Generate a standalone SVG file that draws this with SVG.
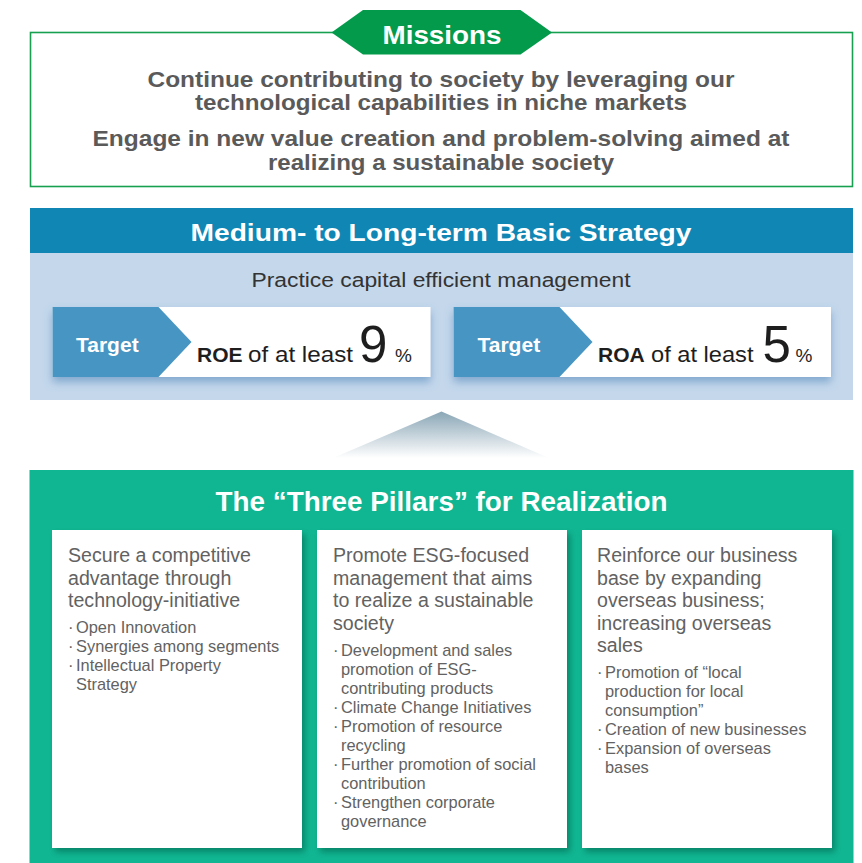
<svg xmlns="http://www.w3.org/2000/svg" width="862" height="863" viewBox="0 0 862 863">
  <style>
    .sans { font-family: "Liberation Sans", Arial, Helvetica, sans-serif; }
    .mission-line { font-size: 21.5px; font-weight: bold; fill: #5a5a5a; text-anchor: middle; }
    .white-title { font-weight: bold; fill: #ffffff; text-anchor: middle; }
    .target-tag { font-size: 21px; font-weight: bold; fill: #ffffff; }
    .target-txt { fill: #1e1e1e; }
    .card { fill: #ffffff; }
    .card-head { font-size: 19.6px; fill: #626262; }
    .card-item { font-size: 16.4px; fill: #626262; }
  </style>
  <defs>
    <filter id="tgtShadow" x="-10%" y="-30%" width="120%" height="170%">
      <feDropShadow dx="0" dy="5" stdDeviation="4" flood-color="#5b8fc0" flood-opacity="0.65"/>
    </filter>
    <filter id="cardShadow" x="-10%" y="-10%" width="125%" height="125%">
      <feDropShadow dx="3" dy="4" stdDeviation="3" flood-color="#045c47" flood-opacity="0.55"/>
    </filter>
    <linearGradient id="upArrow" x1="0" y1="0" x2="0" y2="1">
      <stop offset="0" stop-color="#8aa6b6"/>
      <stop offset="1" stop-color="#ffffff"/>
    </linearGradient>
  </defs>

  <!-- Missions -->
  <g id="missions" class="sans">
    <rect x="30.5" y="32.5" width="822" height="154" fill="#ffffff" stroke="#16a04f" stroke-width="1.6"/>
    <polygon points="331.5,32.5 363,10 520.5,10 552,32.5 520.5,54.5 363,54.5" fill="#039b4b"/>
    <text x="442" y="43.5" class="white-title" font-size="26.5" textLength="119" lengthAdjust="spacingAndGlyphs">Missions</text>
    <text x="441" y="86.5" class="mission-line" textLength="587" lengthAdjust="spacingAndGlyphs">Continue contributing to society by leveraging our</text>
    <text x="441" y="110" class="mission-line" textLength="492" lengthAdjust="spacingAndGlyphs">technological capabilities in niche markets</text>
    <text x="441" y="145.5" class="mission-line" textLength="697" lengthAdjust="spacingAndGlyphs">Engage in new value creation and problem-solving aimed at</text>
    <text x="441" y="169.5" class="mission-line" textLength="346" lengthAdjust="spacingAndGlyphs">realizing a sustainable society</text>
  </g>

  <!-- Medium- to Long-term Basic Strategy -->
  <g id="strategy" class="sans">
    <rect x="30" y="208" width="823" height="45" fill="#0f86b4"/>
    <rect x="30" y="253" width="823" height="147" fill="#c4d7eb"/>
    <text x="441" y="240.7" class="white-title" font-size="24" textLength="501" lengthAdjust="spacingAndGlyphs">Medium- to Long-term Basic Strategy</text>
    <text x="441" y="287" font-size="19.5" fill="#333333" text-anchor="middle" textLength="379" lengthAdjust="spacingAndGlyphs">Practice capital efficient management</text>
  </g>

  <g id="target-roe" class="sans">
    <rect x="52.5" y="307" width="378" height="70" fill="#ffffff" filter="url(#tgtShadow)"/>
    <polygon points="52.5,307 158.5,307 191.5,342 158.5,377 52.5,377" fill="#4795c2"/>
    <text x="76" y="351.7" class="target-tag">Target</text>
    <text x="197" y="361.7" class="target-txt" font-size="21" font-weight="bold">ROE</text>
    <text x="248" y="361.7" class="target-txt" font-size="22" textLength="105" lengthAdjust="spacingAndGlyphs">of at least</text>
    <text x="359" y="361.7" class="target-txt" font-size="51">9</text>
    <text x="395" y="361.7" class="target-txt" font-size="19">%</text>
  </g>

  <g id="target-roa" class="sans">
    <rect x="453.5" y="307" width="377.5" height="70" fill="#ffffff" filter="url(#tgtShadow)"/>
    <polygon points="453.5,307 559.5,307 592.5,342 559.5,377 453.5,377" fill="#4795c2"/>
    <text x="477.5" y="351.7" class="target-tag">Target</text>
    <text x="598" y="361.7" class="target-txt" font-size="21" font-weight="bold">ROA</text>
    <text x="651" y="361.7" class="target-txt" font-size="22" textLength="102.5" lengthAdjust="spacingAndGlyphs">of at least</text>
    <text x="762.5" y="361.7" class="target-txt" font-size="51">5</text>
    <text x="795.5" y="361.7" class="target-txt" font-size="19">%</text>
  </g>

  <!-- Connector: pillars support the strategy -->
  <g id="connectors">
    <polygon points="441.5,411.5 333,458 549,458" fill="url(#upArrow)"/>
  </g>

  <!-- The "Three Pillars" for Realization -->
  <g id="pillars" class="sans">
    <rect x="29.5" y="470" width="824" height="393" fill="#10b692"/>
    <text x="441.5" y="511" class="white-title" font-size="27" textLength="452" lengthAdjust="spacingAndGlyphs">The “Three Pillars” for Realization</text>
  </g>

  <g id="pillar-technology" class="sans">
    <rect x="52" y="530" width="250" height="318" class="card" filter="url(#cardShadow)"/>
    <text class="card-head">
      <tspan x="68" y="562">Secure a competitive</tspan>
      <tspan x="68" y="584.5">advantage through</tspan>
      <tspan x="68" y="607">technology-initiative</tspan>
    </text>
    <text class="card-item">
      <tspan x="68" y="633">·</tspan><tspan x="76" y="633">Open Innovation</tspan>
      <tspan x="68" y="652">·</tspan><tspan x="76" y="652">Synergies among segments</tspan>
      <tspan x="68" y="671">·</tspan><tspan x="76" y="671">Intellectual Property</tspan>
      <tspan x="76" y="690">Strategy</tspan>
    </text>
  </g>

  <g id="pillar-esg" class="sans">
    <rect x="317" y="530" width="250" height="318" class="card" filter="url(#cardShadow)"/>
    <text class="card-head">
      <tspan x="333" y="562">Promote ESG-focused</tspan>
      <tspan x="333" y="584.5">management that aims</tspan>
      <tspan x="333" y="607">to realize a sustainable</tspan>
      <tspan x="333" y="629.5">society</tspan>
    </text>
    <text class="card-item">
      <tspan x="333" y="656">·</tspan><tspan x="341" y="656">Development and sales</tspan>
      <tspan x="341" y="675">promotion of ESG-</tspan>
      <tspan x="341" y="694">contributing products</tspan>
      <tspan x="333" y="713">·</tspan><tspan x="341" y="713">Climate Change Initiatives</tspan>
      <tspan x="333" y="732">·</tspan><tspan x="341" y="732">Promotion of resource</tspan>
      <tspan x="341" y="751">recycling</tspan>
      <tspan x="333" y="770">·</tspan><tspan x="341" y="770">Further promotion of social</tspan>
      <tspan x="341" y="789">contribution</tspan>
      <tspan x="333" y="808">·</tspan><tspan x="341" y="808">Strengthen corporate</tspan>
      <tspan x="341" y="827">governance</tspan>
    </text>
  </g>

  <g id="pillar-overseas" class="sans">
    <rect x="582" y="530" width="250" height="318" class="card" filter="url(#cardShadow)"/>
    <text class="card-head">
      <tspan x="597" y="562">Reinforce our business</tspan>
      <tspan x="597" y="584.5">base by expanding</tspan>
      <tspan x="597" y="607">overseas business;</tspan>
      <tspan x="597" y="629.5">increasing overseas</tspan>
      <tspan x="597" y="652">sales</tspan>
    </text>
    <text class="card-item">
      <tspan x="597" y="678">·</tspan><tspan x="605" y="678">Promotion of “local</tspan>
      <tspan x="605" y="697">production for local</tspan>
      <tspan x="605" y="716">consumption”</tspan>
      <tspan x="597" y="735">·</tspan><tspan x="605" y="735">Creation of new businesses</tspan>
      <tspan x="597" y="754">·</tspan><tspan x="605" y="754">Expansion of overseas</tspan>
      <tspan x="605" y="773">bases</tspan>
    </text>
  </g>
</svg>
